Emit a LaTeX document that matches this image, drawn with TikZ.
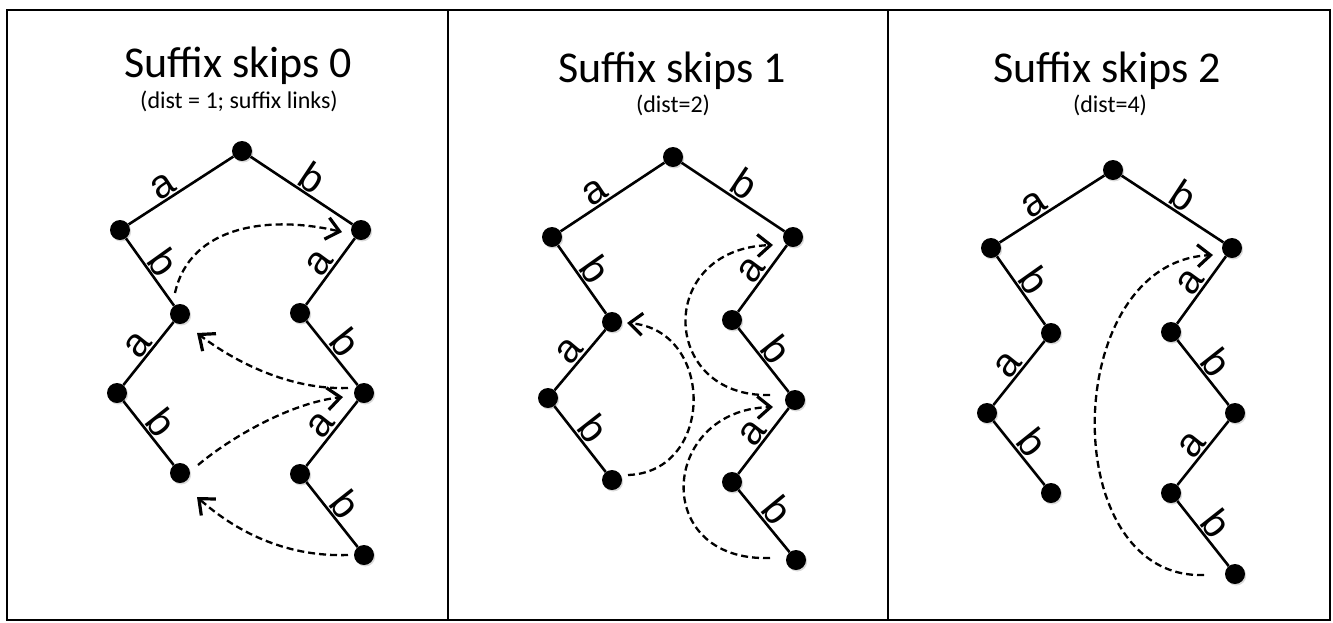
\documentclass[tikz,border=0pt]{standalone}
\usepackage{fontspec}
\setmainfont{Carlito}
\newfontfamily\lblfont{Liberation Sans}
\usetikzlibrary{arrows.meta,shadows}
\begin{document}
\begin{tikzpicture}[x=1pt,y=1pt,
  dot/.style={circle,fill=black,inner sep=0pt,minimum size=20pt,
    drop shadow={shadow xshift=1.2pt,shadow yshift=-1.5pt,opacity=0.3}},
  edge/.style={line width=2.6pt},
  lbl/.style={font=\lblfont\fontsize{40}{40}\selectfont, sloped, above, inner sep=1pt},
  link/.style={line width=2.3pt, dash pattern=on 7pt off 4pt,
    -{Straight Barb[length=13pt,width=22pt,line width=3.2pt]}},
  frame/.style={line width=2.2pt},
  title/.style={font=\fontsize{44}{44}\selectfont, anchor=base},
  sub/.style={font=\fontsize{24}{24}\selectfont, anchor=base}]
\useasboundingbox (0,0) rectangle (1333,-622);
% panels
\draw[frame] (7,-10) rectangle (1330,-620);
\draw[frame] (448,-10) -- (448,-620);
\draw[frame] (888,-10) -- (888,-620);
% titles
\node[title] (t1) at (238,-77) {Suffix skips 0};
\node[sub] (s1) at (239,-108) {(dist = 1; suffix links)};
\node[title] (t2) at (672,-82) {Suffix skips 1};
\node[sub] (s2) at (673,-112) {(dist=2)};
\node[title] (t3) at (1107,-82) {Suffix skips 2};
\node[sub] (s3) at (1110,-112) {(dist=4)};
% panel 1 nodes
\node[dot] (a-r) at (242,-151) {};
\node[dot] (a-l1) at (120,-230) {};
\node[dot] (a-r1) at (361,-230) {};
\node[dot] (a-l2) at (180,-314) {};
\node[dot] (a-r2) at (300,-313) {};
\node[dot] (a-l3) at (117,-393) {};
\node[dot] (a-r3) at (364,-393) {};
\node[dot] (a-l4) at (180,-473) {};
\node[dot] (a-r4) at (300,-474) {};
\node[dot] (a-r5) at (364,-555) {};
% panel 2 nodes
\node[dot] (b-r) at (673,-157) {};
\node[dot] (b-l1) at (552,-237) {};
\node[dot] (b-r1) at (793,-237) {};
\node[dot] (b-l2) at (612,-322) {};
\node[dot] (b-r2) at (732,-320) {};
\node[dot] (b-l3) at (548,-398) {};
\node[dot] (b-r3) at (795,-400) {};
\node[dot] (b-l4) at (612,-480) {};
\node[dot] (b-r4) at (732,-482) {};
\node[dot] (b-r5) at (796,-560) {};
% panel 3 nodes
\node[dot] (c-r) at (1113,-170) {};
\node[dot] (c-l1) at (991,-248) {};
\node[dot] (c-r1) at (1232,-248) {};
\node[dot] (c-l2) at (1051,-333) {};
\node[dot] (c-r2) at (1171,-332) {};
\node[dot] (c-l3) at (987,-413) {};
\node[dot] (c-r3) at (1235,-413) {};
\node[dot] (c-l4) at (1051,-493) {};
\node[dot] (c-r4) at (1171,-493) {};
\node[dot] (c-r5) at (1235,-574) {};
% tree edges
\foreach \p in {a,b,c}{
  \draw[edge] (\p-r) -- node[lbl,pos=.6]{a} (\p-l1);
  \draw[edge] (\p-r) -- node[lbl,pos=.52]{b} (\p-r1);
  \draw[edge] (\p-l1) -- node[lbl]{b} (\p-l2);
  \draw[edge] (\p-l2) -- node[lbl]{a} (\p-l3);
  \draw[edge] (\p-l3) -- node[lbl]{b} (\p-l4);
  \draw[edge] (\p-r1) -- node[lbl]{a} (\p-r2);
  \draw[edge] (\p-r2) -- node[lbl]{b} (\p-r3);
  \draw[edge] (\p-r3) -- node[lbl]{a} (\p-r4);
  \draw[edge] (\p-r4) -- node[lbl]{b} (\p-r5);
}
% panel 1 skips
\draw[link] ([shift={(-5,21)}]a-l2.center) .. controls +(15,68) and +(-72,17) .. ([shift={(-19,-2)}]a-r1.center);
\draw[link] ([shift={(-16,5)}]a-r3.center) .. controls +(-58,-2) and +(38,-29) .. ([shift={(17,-19)}]a-l2.center);
\draw[link] ([shift={(18,8)}]a-l4.center) .. controls +(32,27) and +(-53,-6) .. ([shift={(-21,-4)}]a-r3.center);
\draw[link] ([shift={(-16,0)}]a-r5.center) .. controls +(-58,-2) and +(43,-38) .. ([shift={(17,-24)}]a-l4.center);
% panel 2 skips
\draw[link] ([shift={(16,5)}]b-l4.center) .. controls +(87,3) and +(88,-7) .. ([shift={(15,-1)}]b-l2.center);
\draw[link] ([shift={(-25,5)}]b-r3.center) .. controls +(-110,-3) and +(-118,-4) .. ([shift={(-20,-8)}]b-r1.center);
\draw[link] ([shift={(-26,2)}]b-r5.center) .. controls +(-120,-4) and +(-113,-3) .. ([shift={(-22,-7)}]b-r3.center);
% panel 3 skip
\draw[link] ([shift={(-31,-1)}]c-r5.center) .. controls +(-149,-5) and +(-153,-7) .. ([shift={(-19,-7)}]c-r1.center);
\end{tikzpicture}
\end{document}
